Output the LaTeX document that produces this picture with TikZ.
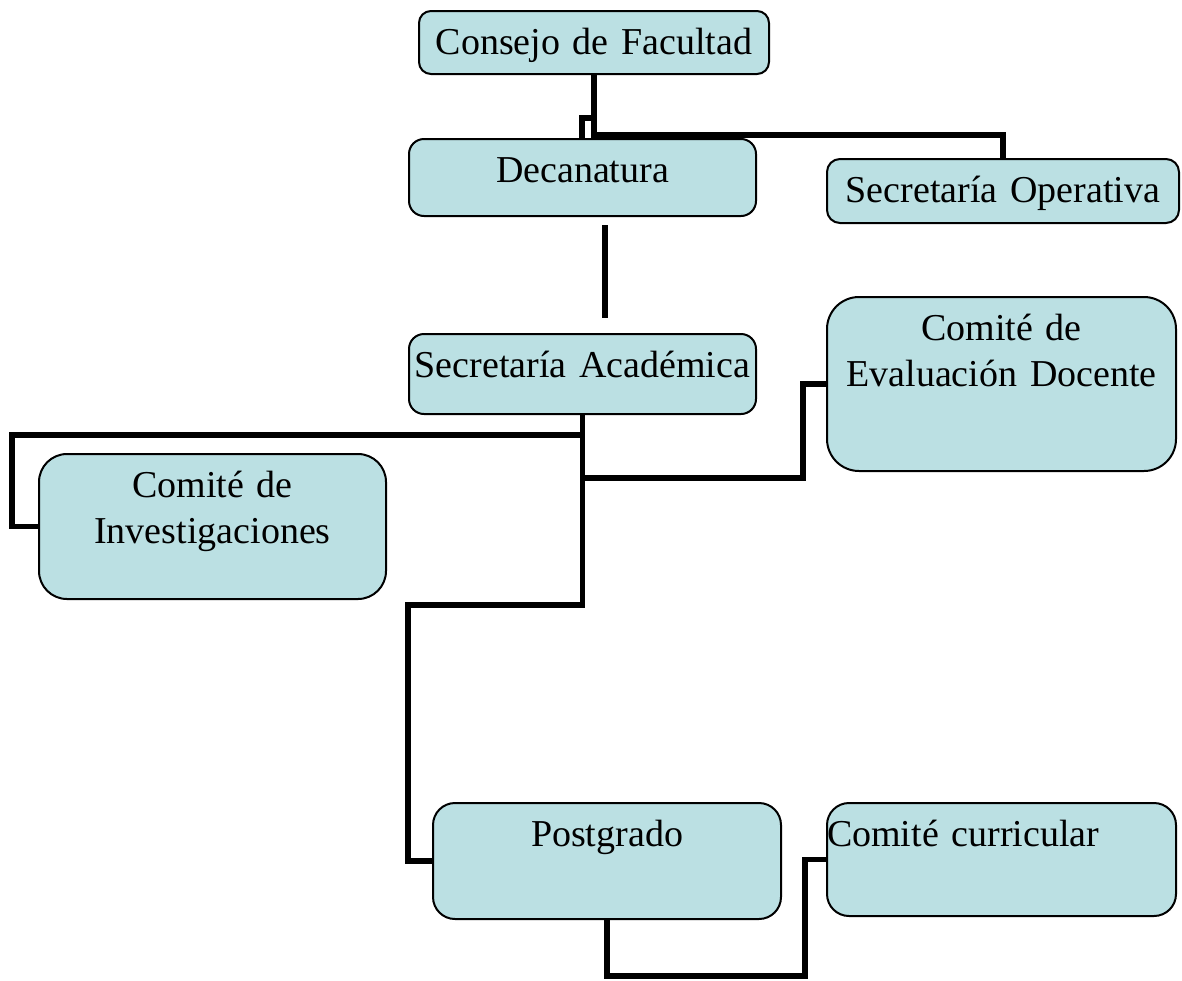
\documentclass[tikz,border=0pt]{standalone}
\usepackage{fontspec}
\setmainfont{Liberation Serif}
\definecolor{boxfill}{RGB}{187,224,227}
\begin{document}
\begin{tikzpicture}[x=0.5pt,y=-0.5pt,
  orgbox/.style={draw=black, line width=1pt, fill=boxfill, inner sep=0pt, anchor=north west, align=center, font=\fontsize{19pt}{23pt}\selectfont, text height=21.5pt},
  link/.style={line width=2.8pt}]
\useasboundingbox (0,0) rectangle (1182,980);
\node[orgbox, rounded corners=6pt, text width=175pt, text depth=10pt] (consejo) at (418,10) {Consejo de Facultad};
\node[orgbox, rounded corners=7.5pt, text width=173.5pt, text depth=17pt] (dec) at (408,138) {Decanatura};
\node[orgbox, rounded corners=6.5pt, text width=176pt, text depth=10.5pt] (secop) at (826,158) {Secretaría Operativa};
\node[orgbox, rounded corners=7.5pt, text width=173.5pt, text depth=18.5pt] (secac) at (408,333) {Secretaría Académica};
\node[orgbox, rounded corners=16pt, text width=174.5pt, text depth=65.5pt] (eval) at (826,296) {Comité de\\Evaluación Docente};
\node[orgbox, rounded corners=14pt, text width=173.5pt, text depth=51pt] (invest) at (38,453) {Comité de\\Investigaciones};
\node[orgbox, rounded corners=11pt, text width=174pt, text depth=36.5pt] (postgrado) at (432,802) {Postgrado};
\node[orgbox, rounded corners=11pt, text width=174.5pt, text depth=35pt, align=left] (curric) at (826,802) {Comité curricular};
\coordinate (d1) at (605,225);
\coordinate (d2) at (605,318);
\draw[link] (consejo.south) -- (consejo.south |- 0,135) -| (secop.north);
\draw[link] (consejo.south |- 0,118) -| (582,138);
\draw[link] (d1) -- (d2);
\draw[link] (secac.south) |- (408,605) |- (postgrado.west);
\draw[link] (secac.south |- 0,435) -- (12,435) |- (invest.west);
\draw[link] (secac.south |- 0,478) -- (803,478) |- (eval.west);
\draw[link] (postgrado.south) |- (805,976) |- (curric.west);
\end{tikzpicture}
\end{document}
